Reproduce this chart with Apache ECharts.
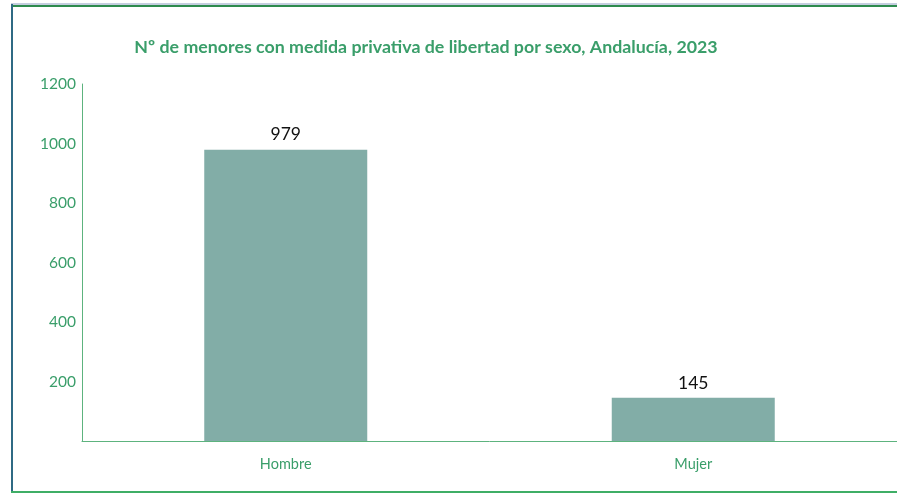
<!DOCTYPE html>
<html>
<head>
<meta charset="utf-8">
<script src="https://cdn.jsdelivr.net/npm/echarts@6/dist/echarts.min.js"></script>
<style>
html,body{margin:0;padding:0;background:#fff;}
#c{width:897px;height:493px;}
</style>
</head>
<body>
<div id="c"></div>
<script>
const titleText = 'Nº de menores con medida privativa de libertad por sexo, Andalucía, 2023';
const categories = ['Hombre', 'Mujer'];
const values = [979, 145];
const yTicks = [200, 400, 600, 800, 1000, 1200];

const green = '#3A9E6A';
const axisGreen = '#5DB37E';
const chart = echarts.init(document.getElementById('c'));
chart.setOption({
  animation: false,
  title: {
    text: titleText,
    left: 421, top: 33, textAlign: 'center',
    textStyle: {color: green, fontFamily: 'Lato', fontWeight: 'bold', fontSize: 17.8}
  },
  grid: {left: 82, right: 0, top: 84, bottom: 52, containLabel: false},
  xAxis: {
    type: 'category', data: categories,
    axisLine: {show: true, lineStyle: {color: axisGreen, width: 1}},
    axisTick: {show: false},
    axisLabel: {color: green, fontFamily: 'Lato', fontSize: 14.5, margin: 16}
  },
  yAxis: {
    type: 'value', min: 0, max: 1200, interval: 200,
    axisLine: {show: true, lineStyle: {color: axisGreen, width: 1}},
    axisTick: {show: false},
    splitLine: {show: false},
    axisLabel: {color: green, fontFamily: 'Lato', fontSize: 15.5, margin: 6,
      formatter: v => yTicks.includes(v) ? String(v) : ''}
  },
  series: [{
    type: 'bar', data: values, barWidth: '40%',
    itemStyle: {color: '#82ADA7'},
    label: {show: true, position: 'top', distance: 6, color: '#111', fontFamily: 'Lato', fontSize: 17.5}
  }],
  graphic: [
    {type: 'line', shape: {x1: 11, y1: 4, x2: 897, y2: 4}, style: {stroke: '#8A9CC0', lineWidth: 1}, silent: true},
    {type: 'line', shape: {x1: 11, y1: 6, x2: 897, y2: 6}, style: {stroke: '#2E8B4E', lineWidth: 2}, silent: true},
    {type: 'line', shape: {x1: 12, y1: 4, x2: 12, y2: 493}, style: {stroke: '#2F6A84', lineWidth: 2}, silent: true},
    {type: 'line', shape: {x1: 11, y1: 492, x2: 897, y2: 492}, style: {stroke: '#3FAE66', lineWidth: 2}, silent: true}
  ]
});
</script>
</body>
</html>
